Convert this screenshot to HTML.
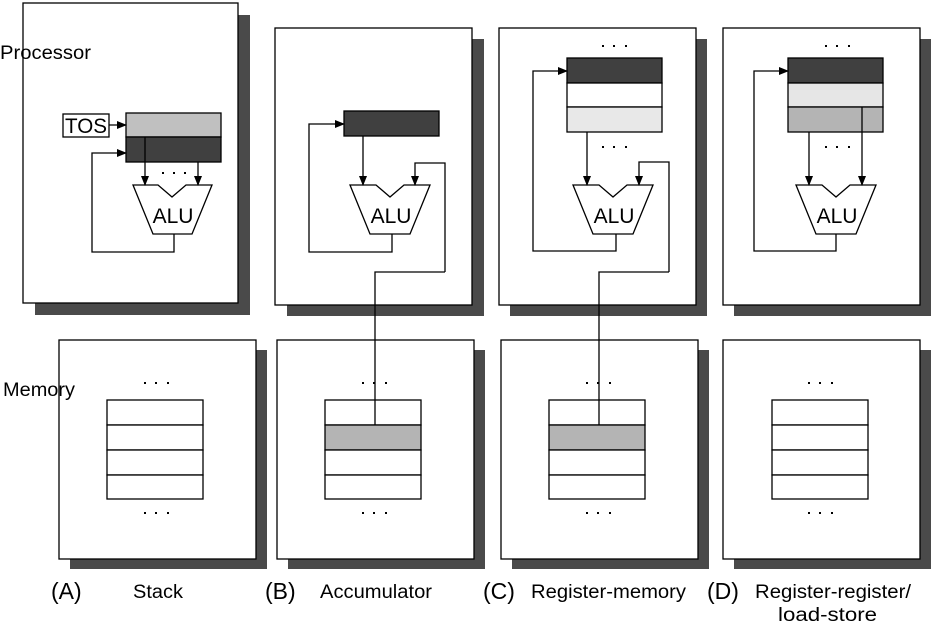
<!DOCTYPE html>
<html><head><meta charset="utf-8"><style>
html,body{margin:0;padding:0;background:#fff;}
svg{display:block;}
text{font-family:"Liberation Sans",Arial,sans-serif;fill:#000;}
</style></head><body>
<svg width="931" height="626" viewBox="0 0 931 626" xmlns="http://www.w3.org/2000/svg">
<defs>
<marker id="ar" markerWidth="10" markerHeight="8" refX="9" refY="4" orient="auto" markerUnits="userSpaceOnUse">
<path d="M0,0 L10,4 L0,8 Z" fill="#000"/>
</marker>
</defs>
<g stroke="none" fill="#4a4a4a">
<rect x="35" y="15" width="215" height="300"/>
<rect x="287" y="39" width="197" height="277"/>
<rect x="510" y="39" width="197" height="277"/>
<rect x="734" y="39" width="197" height="277"/>
<rect x="70" y="350" width="197" height="219"/>
<rect x="288" y="350" width="197" height="219"/>
<rect x="512" y="350" width="197" height="219"/>
<rect x="734" y="350" width="197" height="219"/>
</g>
<g stroke="#000" stroke-width="1.3" fill="#fff">
<rect x="23" y="3" width="215" height="300"/>
<rect x="275" y="28" width="197" height="277"/>
<rect x="499" y="28" width="197" height="277"/>
<rect x="723" y="28" width="197" height="277"/>
<rect x="59" y="340" width="197" height="219"/>
<rect x="277" y="340" width="197" height="219"/>
<rect x="501" y="340" width="197" height="219"/>
<rect x="723" y="340" width="197" height="219"/>
</g>
<text x="0" y="59" font-size="19" textLength="91" lengthAdjust="spacingAndGlyphs">Processor</text>
<text x="3" y="396" font-size="19" textLength="72" lengthAdjust="spacingAndGlyphs">Memory</text>

<g stroke="#000" stroke-width="1.3">
<g fill="#fff"><rect x="107" y="400" width="96" height="25"/><rect x="107" y="425" width="96" height="25"/><rect x="107" y="450" width="96" height="25"/><rect x="107" y="475" width="96" height="24"/></g>
<g fill="#fff"><rect x="325" y="400" width="96" height="25"/><rect x="325" y="425" width="96" height="25" fill="#b4b4b4"/><rect x="325" y="450" width="96" height="25"/><rect x="325" y="475" width="96" height="24"/></g>
<g fill="#fff"><rect x="549" y="400" width="96" height="25"/><rect x="549" y="425" width="96" height="25" fill="#b4b4b4"/><rect x="549" y="450" width="96" height="25"/><rect x="549" y="475" width="96" height="24"/></g>
<g fill="#fff"><rect x="772" y="400" width="96" height="25"/><rect x="772" y="425" width="96" height="25"/><rect x="772" y="450" width="96" height="25"/><rect x="772" y="475" width="96" height="24"/></g>
</g>
<g fill="#000">
<rect x="144" y="382" width="2" height="2"/><rect x="155" y="382" width="2" height="2"/><rect x="167" y="382" width="2" height="2"/>
<rect x="144" y="512" width="2" height="2"/><rect x="155" y="512" width="2" height="2"/><rect x="167" y="512" width="2" height="2"/>
<rect x="362" y="382" width="2" height="2"/><rect x="373" y="382" width="2" height="2"/><rect x="385" y="382" width="2" height="2"/>
<rect x="362" y="512" width="2" height="2"/><rect x="373" y="512" width="2" height="2"/><rect x="385" y="512" width="2" height="2"/>
<rect x="586" y="382" width="2" height="2"/><rect x="597" y="382" width="2" height="2"/><rect x="609" y="382" width="2" height="2"/>
<rect x="586" y="512" width="2" height="2"/><rect x="597" y="512" width="2" height="2"/><rect x="609" y="512" width="2" height="2"/>
<rect x="808" y="382" width="2" height="2"/><rect x="819" y="382" width="2" height="2"/><rect x="831" y="382" width="2" height="2"/>
<rect x="808" y="512" width="2" height="2"/><rect x="819" y="512" width="2" height="2"/><rect x="831" y="512" width="2" height="2"/>
<rect x="162" y="172" width="2" height="2"/><rect x="173" y="172" width="2" height="2"/><rect x="184" y="172" width="2" height="2"/>
<rect x="602" y="45" width="2" height="2"/><rect x="613" y="45" width="2" height="2"/><rect x="625" y="45" width="2" height="2"/>
<rect x="602" y="146" width="2" height="2"/><rect x="613" y="146" width="2" height="2"/><rect x="625" y="146" width="2" height="2"/>
<rect x="825" y="45" width="2" height="2"/><rect x="836" y="45" width="2" height="2"/><rect x="848" y="45" width="2" height="2"/>
<rect x="825" y="146" width="2" height="2"/><rect x="836" y="146" width="2" height="2"/><rect x="848" y="146" width="2" height="2"/>
</g>

<g stroke="#000" stroke-width="1.3">
<rect x="126" y="113" width="95" height="24" fill="#c0c0c0"/>
<rect x="126" y="137" width="95" height="25" fill="#404040"/>
<rect x="344" y="111" width="95" height="25" fill="#404040"/>
<rect x="567" y="58" width="95" height="25" fill="#404040"/>
<rect x="567" y="83" width="95" height="24" fill="#fff"/>
<rect x="567" y="107" width="95" height="25" fill="#e8e8e8"/>
<rect x="788" y="58" width="95" height="25" fill="#404040"/>
<rect x="788" y="83" width="95" height="24" fill="#e6e6e6"/>
<rect x="788" y="107" width="95" height="25" fill="#b4b4b4"/>
<rect x="63" y="114" width="46" height="23" fill="#fff"/>
</g>
<text x="65" y="133" font-size="21" textLength="42" lengthAdjust="spacingAndGlyphs">TOS</text>

<g stroke="#000" stroke-width="1.3" fill="#fff">
<path d="M133,185 L158,185 L172,197 L186,185 L212,185 L192,234 L153,234 Z"/>
<path d="M350,185 L376,185 L390,197 L404,185 L430,185 L410,234 L370,234 Z"/>
<path d="M573,185 L599,185 L613,197 L627,185 L653,185 L633,234 L593,234 Z"/>
<path d="M796,185 L822,185 L836,197 L850,185 L876,185 L856,234 L816,234 Z"/>
</g>
<g font-size="21" text-anchor="middle">
<text x="173" y="223">ALU</text>
<text x="391" y="223">ALU</text>
<text x="614" y="223">ALU</text>
<text x="837" y="223">ALU</text>
</g>

<g stroke="#000" stroke-width="1.3" fill="none">
<path d="M109,125 L126,125" marker-end="url(#ar)"/>
<path d="M145,137 L145,185" marker-end="url(#ar)"/>
<path d="M198,162 L198,185" marker-end="url(#ar)"/>
<path d="M174,234 L174,252 L92,252 L92,153 L126,153" marker-end="url(#ar)"/>

<path d="M363,136 L363,185" marker-end="url(#ar)"/>
<path d="M445,272 L445,163 L415,163 L415,185" marker-end="url(#ar)"/>
<path d="M392,234 L392,252 L309,252 L309,124 L344,124" marker-end="url(#ar)"/>
<path d="M445,272 L375,272 L375,425"/>

<path d="M587,132 L587,185" marker-end="url(#ar)"/>
<path d="M669,272 L669,162 L639,162 L639,185" marker-end="url(#ar)"/>
<path d="M616,234 L616,251 L533,251 L533,71 L567,71" marker-end="url(#ar)"/>
<path d="M669,272 L599,272 L599,425"/>

<path d="M809,132 L809,185" marker-end="url(#ar)"/>
<path d="M862,107 L862,185" marker-end="url(#ar)"/>
<path d="M836,234 L836,251 L754,251 L754,71 L788,71" marker-end="url(#ar)"/>
</g>

<g font-size="23">
<text x="51" y="599">(A)</text>
<text x="265" y="599">(B)</text>
<text x="483" y="599">(C)</text>
<text x="707" y="599">(D)</text>
</g>
<g font-size="19">
<text x="133" y="598" textLength="50" lengthAdjust="spacingAndGlyphs">Stack</text>
<text x="320" y="598" textLength="112" lengthAdjust="spacingAndGlyphs">Accumulator</text>
<text x="531" y="598" textLength="155" lengthAdjust="spacingAndGlyphs">Register-memory</text>
<text x="755" y="598" textLength="156" lengthAdjust="spacingAndGlyphs">Register-register/</text>
<text x="778" y="621" textLength="99" lengthAdjust="spacingAndGlyphs">load-store</text>
</g>
</svg>
</body></html>
